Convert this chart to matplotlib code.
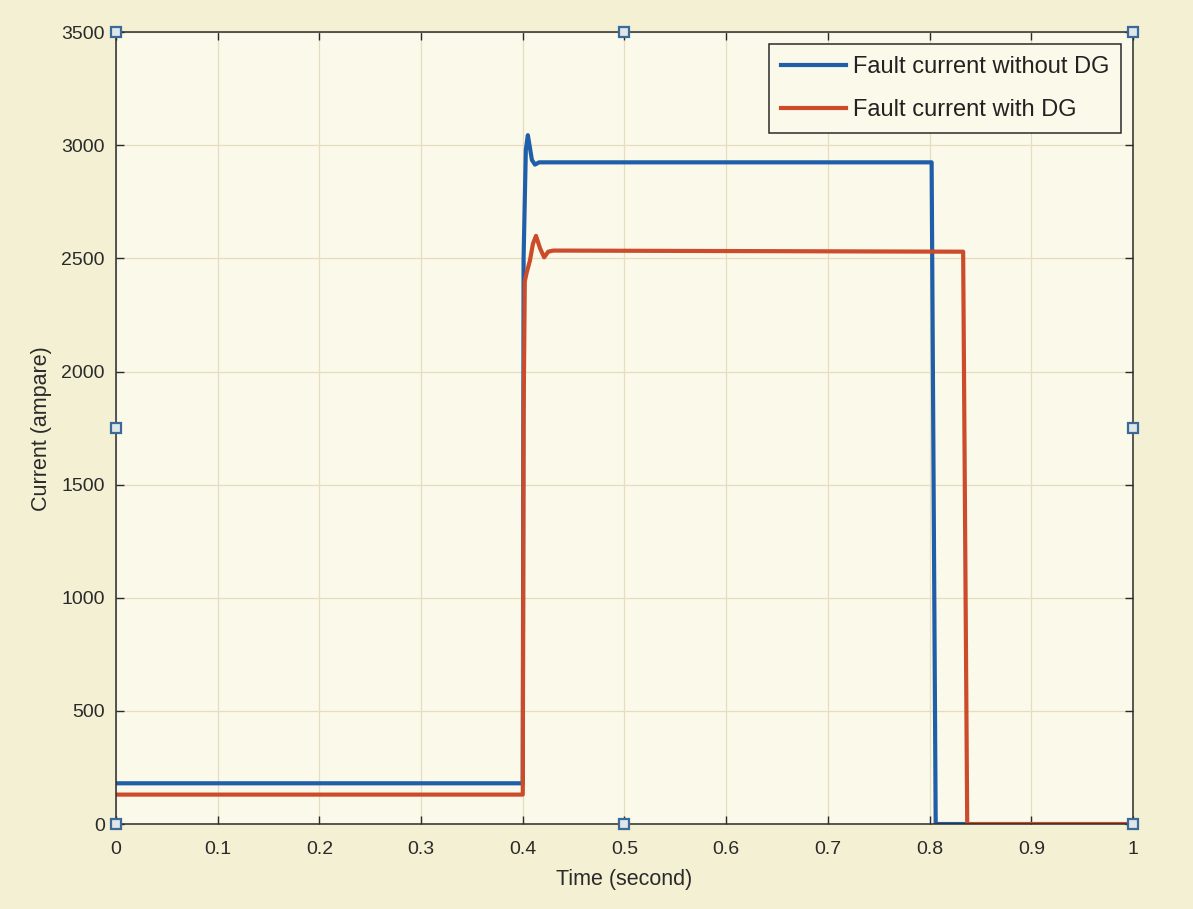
import matplotlib.pyplot as plt

plt.rcParams['font.family'] = ['Liberation Sans', 'DejaVu Sans']

# Corrente de falta sem GD (azul)
t_sem_gd = [0.0, 0.4, 0.4008, 0.403, 0.405, 0.407, 0.409, 0.412, 0.416, 0.420, 0.802, 0.806, 0.836]
i_sem_gd = [180, 180, 2500, 2980, 3045, 2990, 2935, 2915, 2925, 2925, 2925, 0, 0]

# Corrente de falta com GD (vermelho)
t_com_gd = [0.0, 0.4, 0.4008, 0.402, 0.404, 0.407, 0.410, 0.413, 0.417, 0.421, 0.425, 0.430, 0.833, 0.837, 1.0]
i_com_gd = [130, 130, 1800, 2400, 2440, 2490, 2565, 2600, 2545, 2505, 2530, 2535, 2530, 0, 0]

x_ticks = [0, 0.1, 0.2, 0.3, 0.4, 0.5, 0.6, 0.7, 0.8, 0.9, 1]
x_labels = ['0', '0.1', '0.2', '0.3', '0.4', '0.5', '0.6', '0.7', '0.8', '0.9', '1']
y_ticks = [0, 500, 1000, 1500, 2000, 2500, 3000, 3500]

# alças de seleção (posição relativa aos eixos)
alca_x = [0, 0.5, 1, 0, 1, 0, 0.5, 1]
alca_y = [1, 1, 1, 0.5, 0.5, 0, 0, 0]

fig = plt.figure(figsize=(11.93, 9.09), dpi=100, facecolor='#f4f0d3')
ax = fig.add_axes([0.0972, 0.0935, 0.8525, 0.871])
ax.set_facecolor('#fbf9ea')

ax.plot(t_sem_gd, i_sem_gd, color='#1f5ea8', lw=3, label='Fault current without DG')
ax.plot(t_com_gd, i_com_gd, color='#cc4b2b', lw=3, label='Fault current with DG')

ax.set_xlim(0, 1)
ax.set_ylim(0, 3500)
ax.set_xticks(x_ticks)
ax.set_xticklabels(x_labels)
ax.set_yticks(y_ticks)
ax.grid(True, color='#e6dcc0', lw=0.9)
ax.tick_params(direction='in', top=True, right=True, length=6, width=1,
               labelsize=14, colors='#2a2a2a', pad=8)
ax.tick_params(axis='x', pad=12)
for s in ax.spines.values():
    s.set_color('#2a2a2a')
    s.set_linewidth(1.1)

ax.set_xlabel('Time (second)', fontsize=15.5, color='#2a2a2a', labelpad=8)
ax.set_ylabel('Current (ampare)', fontsize=15.5, color='#2a2a2a', labelpad=7)

ax.plot(alca_x, alca_y, 's', transform=ax.transAxes, clip_on=False,
        ms=7, mfc='#dfe6e8', mec='#3b6a9a', mew=1.6, ls='none', zorder=5)

leg = ax.legend(loc='upper right', fontsize=17, frameon=True, fancybox=False,
                edgecolor='#2a2a2a', facecolor='#fbf9ea', framealpha=1,
                handlelength=2.75, handletextpad=0.3, labelspacing=0.9,
                borderpad=0.5, borderaxespad=0.5)
leg.get_frame().set_linewidth(1.1)
for txt in leg.get_texts():
    txt.set_color('#222222')

fig.savefig('out.png', dpi=100, facecolor=fig.get_facecolor())
